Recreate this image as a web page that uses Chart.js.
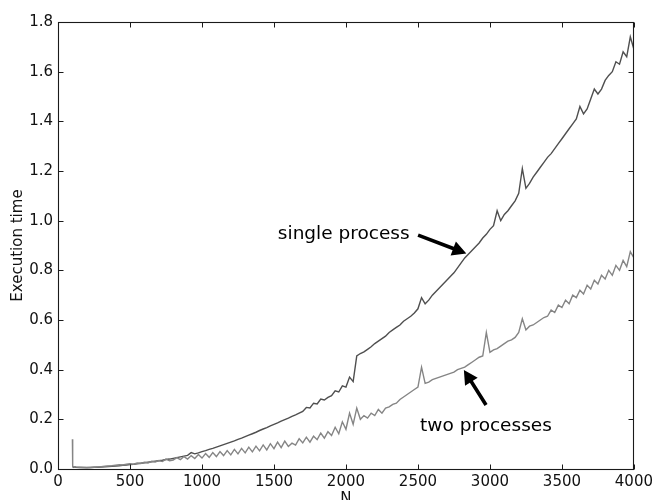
<!DOCTYPE html>
<html>
<head>
<meta charset="utf-8">
<script src="https://cdn.jsdelivr.net/npm/chart.js@4/dist/chart.umd.min.js"></script>
<style>
  html, body { margin: 0; padding: 0; background: #ffffff; }
  #wrap { width: 657px; height: 500px; position: relative; overflow: hidden; }
  canvas { display: block; }
</style>
</head>
<body>
<div id="wrap"><canvas id="c" width="657" height="500"></canvas></div>
<script>
// ---------- data ----------
const N = [
  100, 102, 125, 150, 175,
  200, 225, 250, 275, 300, 325, 350, 375, 400, 425, 450, 475,
  500, 525, 550, 575, 600, 625, 650, 675, 700, 725, 750, 775,
  800, 825, 850, 875, 900, 925, 950, 975, 1000, 1025, 1050, 1075,
  1100, 1125, 1150, 1175, 1200, 1225, 1250, 1275, 1300, 1325, 1350, 1375,
  1400, 1425, 1450, 1475, 1500, 1525, 1550, 1575, 1600, 1625, 1650, 1675,
  1700, 1725, 1750, 1775, 1800, 1825, 1850, 1875, 1900, 1925, 1950, 1975,
  2000, 2025, 2050, 2075, 2100, 2125, 2150, 2175, 2200, 2225, 2250, 2275,
  2300, 2325, 2350, 2375, 2400, 2425, 2450, 2475, 2500, 2525, 2550, 2575,
  2600, 2625, 2650, 2675, 2700, 2725, 2750, 2775, 2800, 2825, 2850, 2875,
  2900, 2925, 2950, 2975, 3000, 3025, 3050, 3075, 3100, 3125, 3150, 3175,
  3200, 3225, 3250, 3275, 3300, 3325, 3350, 3375, 3400, 3425, 3450, 3475,
  3500, 3525, 3550, 3575, 3600, 3625, 3650, 3675, 3700, 3725, 3750, 3775,
  3800, 3825, 3850, 3875, 3900, 3925, 3950, 3975, 4000
];

const singleProcess = [
  0.010, 0.009, 0.007, 0.006, 0.006,
  0.006, 0.006, 0.007, 0.007, 0.008, 0.009, 0.010, 0.011, 0.012, 0.013, 0.015, 0.016,
  0.018, 0.019, 0.021, 0.023, 0.025, 0.027, 0.029, 0.031, 0.033, 0.035, 0.038, 0.040,
  0.043, 0.046, 0.049, 0.052, 0.055, 0.066, 0.061, 0.065, 0.070, 0.074, 0.079, 0.083,
  0.088, 0.093, 0.098, 0.103, 0.108, 0.113, 0.119, 0.124, 0.130, 0.136, 0.142, 0.148,
  0.155, 0.161, 0.167, 0.174, 0.180, 0.186, 0.193, 0.199, 0.205, 0.212, 0.218, 0.225,
  0.232, 0.248, 0.246, 0.265, 0.262, 0.282, 0.278, 0.288, 0.295, 0.315, 0.310, 0.335,
  0.330, 0.370, 0.352, 0.455, 0.465, 0.472, 0.482, 0.492, 0.505, 0.515, 0.525, 0.535,
  0.550, 0.560, 0.570, 0.580, 0.595, 0.605, 0.615, 0.628, 0.645, 0.690, 0.665, 0.680,
  0.700, 0.715, 0.730, 0.745, 0.760, 0.775, 0.790, 0.810, 0.830, 0.850, 0.865, 0.880,
  0.895, 0.910, 0.930, 0.945, 0.965, 0.980, 1.040, 1.000, 1.025, 1.040, 1.060, 1.080,
  1.110, 1.210, 1.130, 1.150, 1.175, 1.195, 1.215, 1.235, 1.255, 1.270, 1.290, 1.310,
  1.330, 1.350, 1.370, 1.390, 1.410, 1.460, 1.430, 1.450, 1.490, 1.530, 1.510, 1.530,
  1.565, 1.585, 1.600, 1.640, 1.630, 1.680, 1.660, 1.740, 1.690
];

const twoProcesses = [
  0.120, 0.010, 0.008, 0.007, 0.006,
  0.005, 0.006, 0.007, 0.008, 0.009, 0.011, 0.012, 0.013, 0.015, 0.017, 0.016, 0.019,
  0.021, 0.019, 0.024, 0.022, 0.027, 0.024, 0.031, 0.028, 0.034, 0.030, 0.040, 0.033,
  0.036, 0.046, 0.038, 0.050, 0.040, 0.054, 0.042, 0.058, 0.044, 0.062, 0.047, 0.066,
  0.050, 0.070, 0.054, 0.074, 0.057, 0.079, 0.061, 0.083, 0.065, 0.088, 0.069, 0.092,
  0.073, 0.097, 0.077, 0.102, 0.082, 0.108, 0.086, 0.112, 0.091, 0.104, 0.096, 0.122,
  0.105, 0.128, 0.108, 0.132, 0.118, 0.145, 0.124, 0.150, 0.135, 0.168, 0.142, 0.190,
  0.160, 0.225, 0.180, 0.245, 0.200, 0.215, 0.205, 0.225, 0.215, 0.240, 0.225, 0.245,
  0.250, 0.260, 0.265, 0.280, 0.290, 0.300, 0.310, 0.320, 0.330, 0.410, 0.345, 0.350,
  0.360, 0.365, 0.370, 0.375, 0.380, 0.385, 0.390, 0.400, 0.405, 0.410, 0.420, 0.430,
  0.440, 0.450, 0.455, 0.550, 0.470, 0.480, 0.485, 0.495, 0.505, 0.515, 0.520, 0.530,
  0.550, 0.605, 0.560, 0.575, 0.580, 0.590, 0.600, 0.610, 0.615, 0.640, 0.630, 0.660,
  0.650, 0.680, 0.665, 0.700, 0.690, 0.720, 0.705, 0.740, 0.725, 0.760, 0.745, 0.780,
  0.765, 0.800, 0.780, 0.820, 0.800, 0.840, 0.815, 0.875, 0.850
];

const xTicks = [0, 500, 1000, 1500, 2000, 2500, 3000, 3500, 4000];
const yTicks = [0.0, 0.2, 0.4, 0.6, 0.8, 1.0, 1.2, 1.4, 1.6, 1.8];

// annotations (in data units)
const annotationLabels = ['single process', 'two processes'];
const annotationTextAt = [[1527, 0.926], [2515, 0.155]];
const annotationTail   = [[2501, 0.942], [2973, 0.258]];
const annotationTip    = [[2836, 0.868], [2819, 0.399]];

const FONT = "'DejaVu Sans', 'Liberation Sans', sans-serif";

// ---------- frame, ticks, titles, annotations ----------
const decor = {
  id: 'decor',
  afterDatasetsDraw(chart) {
    const ctx = chart.ctx;
    const xs = chart.scales.x, ys = chart.scales.y;
    const a = chart.chartArea;
    const L = Math.round(a.left) + 0.5, R = Math.round(a.right) - 0.5;
    const T = Math.round(a.top) + 0.5, B = Math.round(a.bottom) + 0.5;
    ctx.save();
    ctx.strokeStyle = '#1a1a1a';
    ctx.lineWidth = 1.1;
    ctx.strokeRect(L, T, R - L, B - T);
    ctx.lineWidth = 1;
    ctx.beginPath();
    xTicks.forEach(v => {
      const px = Math.round(xs.getPixelForValue(v)) + 0.5;
      ctx.moveTo(px, B); ctx.lineTo(px, B - 5);
      ctx.moveTo(px, T); ctx.lineTo(px, T + 5);
    });
    yTicks.forEach(v => {
      const py = Math.round(ys.getPixelForValue(v)) + 0.5;
      ctx.moveTo(L, py); ctx.lineTo(L + 5, py);
      ctx.moveTo(R, py); ctx.lineTo(R - 5, py);
    });
    ctx.stroke();

    // axis titles
    ctx.fillStyle = '#111';
    ctx.font = '15px ' + FONT;
    ctx.textAlign = 'center';
    ctx.textBaseline = 'alphabetic';
    ctx.fillText('N', (a.left + a.right) / 2, 503);
    ctx.save();
    ctx.translate(22, (a.top + a.bottom) / 2);
    ctx.rotate(-Math.PI / 2);
    ctx.textBaseline = 'alphabetic';
    ctx.fillText('Execution time', 0, 0);
    ctx.restore();

    // annotations
    ctx.fillStyle = '#000';
    ctx.font = '18.5px ' + FONT;
    ctx.textAlign = 'left';
    ctx.textBaseline = 'alphabetic';
    annotationLabels.forEach((t, i) => {
      ctx.fillText(t, xs.getPixelForValue(annotationTextAt[i][0]), ys.getPixelForValue(annotationTextAt[i][1]));
      const x0 = xs.getPixelForValue(annotationTail[i][0]), y0 = ys.getPixelForValue(annotationTail[i][1]);
      const x1 = xs.getPixelForValue(annotationTip[i][0]),  y1 = ys.getPixelForValue(annotationTip[i][1]);
      const dx = x1 - x0, dy = y1 - y0, len = Math.hypot(dx, dy);
      const ux = dx / len, uy = dy / len, nx = -uy, ny = ux;
      const hl = 14, hw = 7.5, sw = 1.8;
      const bx = x1 - ux * hl, by = y1 - uy * hl;
      ctx.beginPath();
      ctx.moveTo(x0 + nx * sw, y0 + ny * sw);
      ctx.lineTo(bx + nx * sw, by + ny * sw);
      ctx.lineTo(bx + nx * hw, by + ny * hw);
      ctx.lineTo(x1, y1);
      ctx.lineTo(bx - nx * hw, by - ny * hw);
      ctx.lineTo(bx - nx * sw, by - ny * sw);
      ctx.lineTo(x0 - nx * sw, y0 - ny * sw);
      ctx.closePath();
      ctx.fill();
    });
    ctx.restore();
  }
};

const toPoints = arr => N.map((n, i) => ({ x: n, y: arr[i] }));

new Chart(document.getElementById('c').getContext('2d'), {
  type: 'line',
  data: {
    datasets: [
      { label: 'two processes', data: toPoints(twoProcesses), borderColor: '#858585',
        borderWidth: 1.4, pointRadius: 0, tension: 0, fill: false },
      { label: 'single process', data: toPoints(singleProcess), borderColor: '#4f4f4f',
        borderWidth: 1.4, pointRadius: 0, tension: 0, fill: false }
    ]
  },
  options: {
    responsive: false,
    animation: false,
    devicePixelRatio: 1,
    layout: { padding: { top: 22, right: 20, left: 0, bottom: 0 } },
    plugins: { legend: { display: false }, tooltip: { enabled: false } },
    scales: {
      x: {
        type: 'linear', min: 0, max: 4000,
        afterBuildTicks: s => { s.ticks = xTicks.map(v => ({ value: v })); },
        ticks: { callback: v => String(v), font: { family: FONT, size: 15 }, color: '#111',
                 padding: 4, maxRotation: 0, autoSkip: false },
        grid: { display: false, drawTicks: false },
        border: { display: false },
        afterFit: s => { s.height = 31; }
      },
      y: {
        type: 'linear', min: 0, max: 1.8,
        afterBuildTicks: s => { s.ticks = yTicks.map(v => ({ value: v })); },
        ticks: { callback: v => Number(v).toFixed(1), font: { family: FONT, size: 15 }, color: '#111',
                 padding: 5, autoSkip: false },
        grid: { display: false, drawTicks: false },
        border: { display: false },
        afterFit: s => { s.width = 58; }
      }
    }
  },
  plugins: [decor]
});
</script>
</body>
</html>
